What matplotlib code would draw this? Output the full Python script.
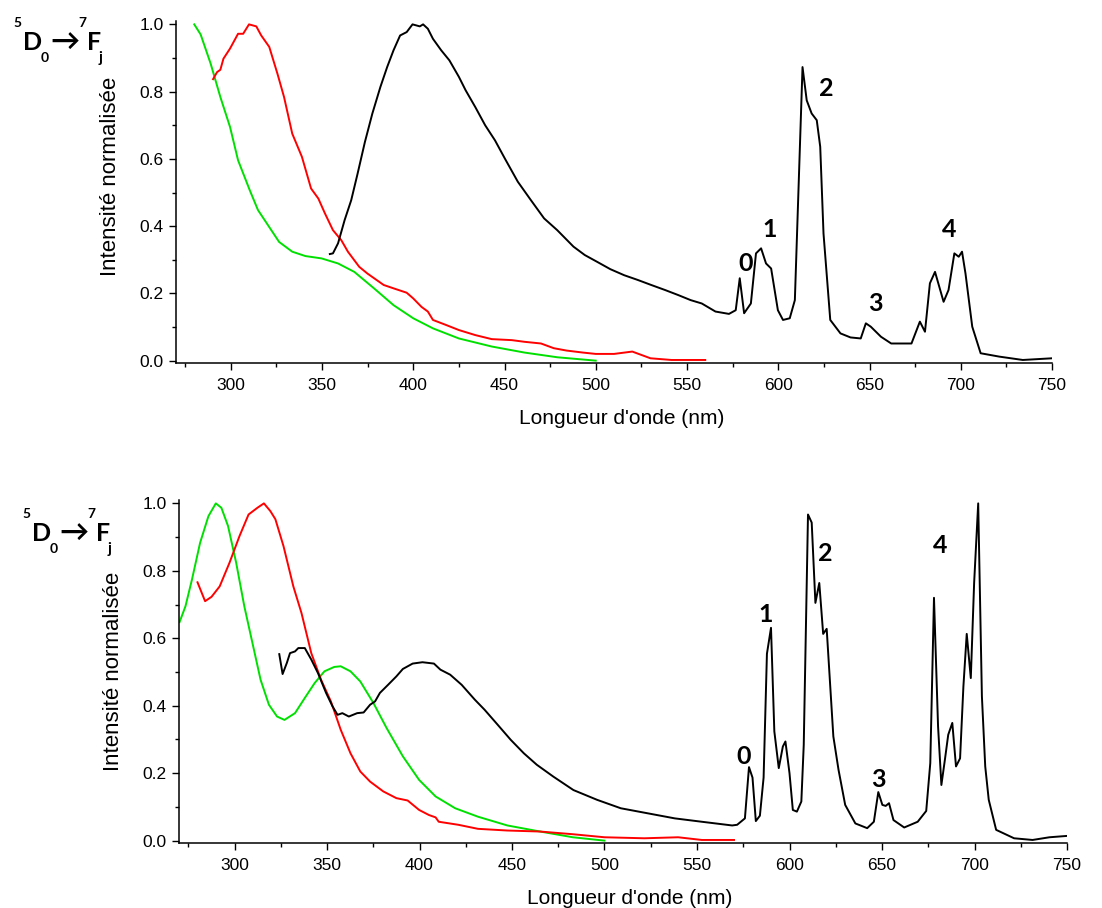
import matplotlib
matplotlib.use("Agg")
import matplotlib.pyplot as plt

plt.rcParams["font.family"] = ["Liberation Sans", "DejaVu Sans"]

# ---- top panel data (wavelength nm, normalised intensity) ----
top_green_x = [280, 283.5, 289, 294.3, 299.6, 304, 310.4, 314.9, 321, 326.5, 333.7, 340.9,
               349.8, 358.8, 367.7, 378.5, 389.2, 400, 410.8, 425, 443, 461, 479, 500]
top_green_y = [1.0, 0.97, 0.883, 0.784, 0.695, 0.596, 0.507, 0.448, 0.398, 0.353, 0.324, 0.311,
               0.304, 0.289, 0.264, 0.215, 0.165, 0.126, 0.096, 0.066, 0.042, 0.024, 0.01, 0.0]

top_red_x = [290.3, 292.5, 294.3, 296, 299.6, 304, 306.8, 310, 314, 316.7, 321.1, 325.6, 329.2,
             333.7, 339, 344, 348, 351.6, 356, 360.6, 364.2, 370.4, 374.9, 383.8, 389.2, 396.4,
             400, 404.5, 408, 410.8, 418, 425, 434, 443, 454, 461, 470, 477, 484, 493, 500,
             510, 520, 530, 541.5, 560]
top_red_y = [0.837, 0.858, 0.865, 0.898, 0.928, 0.972, 0.972, 1.0, 0.994, 0.967, 0.933, 0.853, 0.784,
             0.675, 0.606, 0.512, 0.482, 0.438, 0.388, 0.358, 0.324, 0.279, 0.259, 0.225, 0.215, 0.202,
             0.185, 0.16, 0.146, 0.121, 0.106, 0.091, 0.076, 0.064, 0.061, 0.056, 0.051, 0.037, 0.03,
             0.024, 0.02, 0.02, 0.027, 0.007, 0.002, 0.002]

top_black_x = [354.3, 356, 358.8, 362.4, 366, 369.5, 373.5, 377.6, 382, 385.7, 389.2, 392.8, 396.4,
               399.6, 403.6, 405.4, 408, 410.8, 415.3, 419.8, 425, 428.7, 434, 439.4, 444.8, 450.2,
               457.3, 464.5, 471.7, 478.9, 487.8, 494, 500.7, 508, 515.6, 523, 530.4, 538, 545.2,
               552, 558.1, 565.6, 573,
               576.7, 578.9, 581.3, 585, 587.8, 590.6, 593.3, 596.1, 599.8, 602.6, 606.3, 609.1,
               613.3, 615.6, 618.3, 621.1, 623, 624.8, 628.5, 634.1, 639.6, 645.2, 648, 650.7,
               656.3, 661.9, 673, 677.6, 680.4, 683.1, 685.9, 690.6, 693.3, 696.5, 698.9, 700.7,
               702.6, 706.3, 710.9, 721.1, 734, 750]
top_black_y = [0.317, 0.319, 0.349, 0.418, 0.477, 0.556, 0.65, 0.735, 0.814, 0.873, 0.923, 0.967, 0.977,
               1.0, 0.994, 1.0, 0.987, 0.957, 0.923, 0.893, 0.844, 0.804, 0.754, 0.7, 0.655, 0.601,
               0.532, 0.477, 0.423, 0.388, 0.339, 0.314, 0.294, 0.272, 0.254, 0.24, 0.225, 0.21, 0.195,
               0.18, 0.17, 0.146, 0.139,
               0.15, 0.245, 0.141, 0.17, 0.319, 0.334, 0.289, 0.274, 0.15, 0.121, 0.126, 0.18,
               0.873, 0.774, 0.735, 0.715, 0.636, 0.378, 0.121, 0.081, 0.069, 0.066, 0.111, 0.101,
               0.071, 0.051, 0.051, 0.116, 0.086, 0.23, 0.264, 0.175, 0.21, 0.319, 0.309, 0.324,
               0.259, 0.101, 0.022, 0.012, 0.002, 0.007]

# ---- bottom panel data ----
bot_green_x = [270.3, 273.5, 277, 281.4, 285.9, 289.9, 292.9, 296.5, 300.9, 305.3, 309.7, 314.1,
               318.6, 323, 327, 332.7, 338, 343.3, 348.6, 353.9, 357.4, 362.7, 368, 375.1, 382.2,
               391, 399.8, 408.7, 419.3, 431.6, 447.5, 465.2, 482.9, 500]
bot_green_y = [0.648, 0.695, 0.774, 0.883, 0.962, 1.0, 0.987, 0.933, 0.824, 0.695, 0.586, 0.477,
               0.403, 0.368, 0.358, 0.378, 0.423, 0.467, 0.502, 0.515, 0.517, 0.502, 0.472, 0.408, 0.334,
               0.25, 0.18, 0.131, 0.096, 0.071, 0.045, 0.027, 0.01, 0.0]

bot_red_x = [280, 284.1, 287.6, 292, 297.3, 302.7, 307.6, 312.4, 315.9, 319.4, 322.1, 326.5, 331.8,
             336.2, 341.5, 346.8, 352.1, 357.4, 362.7, 368, 373.3, 380.4, 387.5, 393.6, 399.8, 405.1,
             408.7, 410.4, 421, 431.6, 447.5, 465.2, 482.9, 500, 521.5, 539.8, 552.6, 570]
bot_red_y = [0.766, 0.71, 0.723, 0.754, 0.824, 0.903, 0.967, 0.987, 1.0, 0.977, 0.953, 0.873, 0.754,
             0.675, 0.556, 0.477, 0.413, 0.329, 0.259, 0.205, 0.175, 0.146, 0.126, 0.119, 0.091, 0.076,
             0.069, 0.056, 0.047, 0.035, 0.03, 0.027, 0.019, 0.01, 0.007, 0.01, 0.002, 0.002]

bot_black_x = [324.2, 326, 328.3, 330, 332.7, 334.5, 338, 341.5, 345.1, 349.5, 353, 355.7, 358.3,
               361.8, 366.3, 369.8, 373.3, 376, 378.6, 383, 387.5, 391, 396.3, 401.6, 407.8, 411.3,
               416.6, 422.8, 429.9, 435.2, 442.2, 449.3, 456.4, 463.4, 472.3, 483.2, 496, 508.8,
               523.4, 538, 552.6, 569, 571.7, 575.9, 578.1, 580, 581.8, 584, 586, 587.8, 590,
               591.8, 594.2, 596.4, 597.8, 600, 601.8, 604, 606.4, 607.7, 610, 612, 614, 616.1,
               618.2, 620.1, 623.7, 626.5, 630.1, 635.6, 642, 645.6, 648, 650.2, 652, 653.8, 656.2,
               662, 669.3, 673.9, 676.1, 678.1, 680.3, 682.1, 684, 685.8, 688, 690, 692.2, 694,
               695.8, 698, 699.8, 702, 704, 705.8, 707.7, 711.7, 721.4, 731.4, 740.5, 750]
bot_black_y = [0.553, 0.494, 0.527, 0.556, 0.561, 0.571, 0.571, 0.537, 0.497, 0.438, 0.398, 0.373, 0.378,
               0.368, 0.378, 0.38, 0.403, 0.413, 0.438, 0.462, 0.487, 0.509, 0.525, 0.529, 0.525, 0.507,
               0.492, 0.462, 0.418, 0.388, 0.344, 0.299, 0.259, 0.225, 0.19, 0.15, 0.121, 0.096,
               0.081, 0.066, 0.056, 0.045, 0.047, 0.066, 0.218, 0.187, 0.058, 0.074, 0.187, 0.554, 0.631,
               0.324, 0.215, 0.279, 0.294, 0.2, 0.091, 0.086, 0.116, 0.284, 0.967, 0.943, 0.705, 0.764,
               0.613, 0.628, 0.309, 0.21, 0.106, 0.051, 0.037, 0.056, 0.144, 0.106, 0.103, 0.111, 0.061,
               0.039, 0.056, 0.088, 0.23, 0.72, 0.339, 0.165, 0.24, 0.314, 0.349, 0.22, 0.244, 0.457,
               0.613, 0.482, 0.764, 1.0, 0.428, 0.22, 0.121, 0.032, 0.007, 0.002, 0.01, 0.014]

# peak labels: text, x, y
peak_labels = ["0", "1", "2", "3", "4"]
top_label_x = [582, 595.3, 626.2, 653.2, 693.9]
top_label_y = [0.29, 0.389, 0.809, 0.169, 0.389]
bot_label_x = [575, 587.3, 619.2, 648, 681.4]
bot_label_y = [0.249, 0.67, 0.852, 0.182, 0.875]

GREEN = "#00e000"
RED = "#ff0000"
W, H = 1102, 908
BOLD_FAMILY = ["Lato", "DejaVu Sans"]


def transition_label(fig, dx, dy):
    """5D0 -> 7Fj label; positions are left edge / baseline in pixels."""
    parts = [("5", 13, 27, 10), ("D", 23, 50, 18), ("0", 41, 62, 10),
             ("\u2192", 50, 50, 21), ("7", 78, 27, 10), ("F", 87, 50, 18), ("j", 99, 62, 11)]
    for txt, px, py, size in parts:
        fig.text((px + dx) / W, 1 - (py + dy) / H, txt, fontsize=size, fontweight="bold",
                 family=BOLD_FAMILY, ha="left", va="baseline")


def style_axis(ax):
    ax.set_xlim(270, 750)
    ax.set_ylim(-0.007, 1.01)
    ax.spines["top"].set_visible(False)
    ax.spines["right"].set_visible(False)
    ax.spines["left"].set_linewidth(1.1)
    ax.spines["bottom"].set_linewidth(1.1)
    ax.set_xticks(range(300, 751, 50))
    ax.set_xticks(range(275, 751, 50), minor=True)
    ax.set_yticks([0, 0.2, 0.4, 0.6, 0.8, 1.0])
    ax.set_yticks([0.1, 0.3, 0.5, 0.7, 0.9], minor=True)
    ax.yaxis.set_major_formatter(matplotlib.ticker.FormatStrFormatter("%.1f"))
    ax.tick_params(which="major", direction="out", length=5, width=1, labelsize=12.5, pad=4)
    ax.tick_params(axis="x", which="major", pad=6)
    ax.tick_params(which="minor", direction="out", length=3, width=1)
    ax.set_xlabel("Longueur d'onde (nm)", fontsize=15, labelpad=11)
    ax.set_ylabel("Intensité normalisée", fontsize=16, labelpad=13)


fig = plt.figure(figsize=(W / 100, H / 100), dpi=100)
ax1 = fig.add_axes([176 / W, 1 - 363 / H, (1052 - 176) / W, (363 - 21) / H])
ax2 = fig.add_axes([179 / W, 1 - 843 / H, (1067 - 179) / W, (843 - 500) / H])

ax1.plot(top_green_x, top_green_y, color=GREEN, lw=1.4)
ax1.plot(top_red_x, top_red_y, color=RED, lw=1.4)
ax1.plot(top_black_x, top_black_y, color="black", lw=1.4)

ax2.plot(bot_green_x, bot_green_y, color=GREEN, lw=1.4)
ax2.plot(bot_red_x, bot_red_y, color=RED, lw=1.4)
ax2.plot(bot_black_x, bot_black_y, color="black", lw=1.4)

for ax, lx, ly in [(ax1, top_label_x, top_label_y), (ax2, bot_label_x, bot_label_y)]:
    style_axis(ax)
    for t, x, y in zip(peak_labels, lx, ly):
        ax.text(x, y, t, fontsize=18, fontweight="bold", family=BOLD_FAMILY,
                ha="center", va="center")

# the labels in the original are slightly off-centre
ax1.yaxis.label.set_y(0.545)
ax1.xaxis.label.set_x(0.509)
ax2.xaxis.label.set_x(0.507)

transition_label(fig, 0, 0)
transition_label(fig, 9, 491)

fig.savefig("out.png", dpi=100)
